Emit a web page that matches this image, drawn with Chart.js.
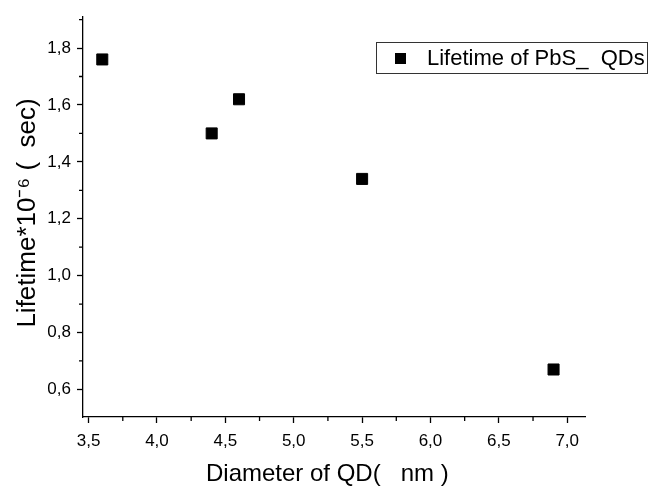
<!DOCTYPE html>
<html><head><meta charset="utf-8">
<script src="https://cdn.jsdelivr.net/npm/chart.js@4"></script>
<style>
html,body{margin:0;padding:0;background:#fff;}
#wrap{position:relative;width:652px;height:491px;}
#legend{position:absolute;left:376px;top:42px;width:272px;height:32px;border:1px solid #333;box-sizing:border-box;font-family:"Liberation Sans",Arial,sans-serif;font-size:22px;display:flex;align-items:center;white-space:pre;color:#000;}
#legend .sw{display:inline-block;width:11px;height:11px;background:#000;margin-left:18px;margin-right:21px;}
</style></head>
<body><div id="wrap"><canvas id="c" width="652" height="491"></canvas><div id="legend"></div></div>
<script>
const diameters = [3.6, 4.4, 4.6, 5.5, 6.9];
const lifetimes = [1.76, 1.50, 1.62, 1.34, 0.67];
const seriesLabel = 'Lifetime of PbS_  QDs';
const xTicks = [3.5, 4.0, 4.5, 5.0, 5.5, 6.0, 6.5, 7.0];
const yTicks = [0.6, 0.8, 1.0, 1.2, 1.4, 1.6, 1.8];
const xMinor = [3.75, 4.25, 4.75, 5.25, 5.75, 6.25, 6.75];
const yMinor = [0.7, 0.9, 1.1, 1.3, 1.5, 1.7, 1.9];
const xTitle = 'Diameter of QD(   nm )  ';
const yTitle = ' Lifetime*10\u207B\u2076 (  sec)';

const FONT = '"Liberation Sans", Arial, sans-serif';
const fmt = v => v.toFixed(1).replace('.', ',');

document.getElementById('legend').innerHTML = '<span class="sw"></span><span></span>';
document.querySelector('#legend span:last-child').textContent = seriesLabel;

const minorTicks = {
  id: 'minorTicks',
  afterDraw(chart) {
    const {ctx, scales: {x, y}, chartArea: a} = chart;
    ctx.save();
    ctx.strokeStyle = '#000';
    ctx.lineWidth = 1.3;
    ctx.beginPath();
    xMinor.forEach(v => { const px = x.getPixelForValue(v); ctx.moveTo(px, a.bottom); ctx.lineTo(px, a.bottom + 4); });
    yMinor.forEach(v => { const py = y.getPixelForValue(v); ctx.moveTo(a.left, py); ctx.lineTo(a.left - 4, py); });
    ctx.stroke();
    ctx.restore();
  }
};

new Chart(document.getElementById('c'), {
  type: 'scatter',
  data: {
    datasets: [{
      label: seriesLabel,
      data: diameters.map((d, i) => ({x: d, y: lifetimes[i]})),
      pointStyle: 'rect',
      radius: 7.8,
      hoverRadius: 7.8,
      backgroundColor: '#000',
      borderColor: '#000',
      borderWidth: 1
    }]
  },
  options: {
    responsive: false,
    devicePixelRatio: 1,
    animation: false,
    layout: {padding: {top: 14, right: 67, left: 0, bottom: 0}},
    plugins: {legend: {display: false}, tooltip: {enabled: false}},
    scales: {
      x: {
        type: 'linear', min: 3.459, max: 7.13,
        afterBuildTicks: s => { s.ticks = xTicks.map(v => ({value: v})); },
        afterFit: s => { s.height = 74; },
        grid: {drawOnChartArea: false, tickLength: 6, tickColor: '#000', tickWidth: 1.3},
        border: {color: '#000', width: 1.3},
        ticks: {color: '#000', font: {family: FONT, size: 17}, padding: 8, maxRotation: 0, callback: v => fmt(v)},
        title: {display: true, text: xTitle, color: '#000', font: {family: FONT, size: 24}, padding: {top: 0, bottom: 2}}
      },
      y: {
        type: 'linear', min: 0.503, max: 1.912,
        afterBuildTicks: s => { s.ticks = yTicks.map(v => ({value: v})); },
        afterFit: s => { s.width = 83; },
        grid: {drawOnChartArea: false, tickLength: 6, tickColor: '#000', tickWidth: 1.3},
        border: {color: '#000', width: 1.3},
        ticks: {color: '#000', font: {family: FONT, size: 17}, padding: 6, callback: v => fmt(v)},
        title: {display: true, text: yTitle, color: '#000', font: {family: FONT, size: 26}, padding: {top: 12, bottom: 0}}
      }
    }
  },
  plugins: [minorTicks]
});
</script>
</body></html>
